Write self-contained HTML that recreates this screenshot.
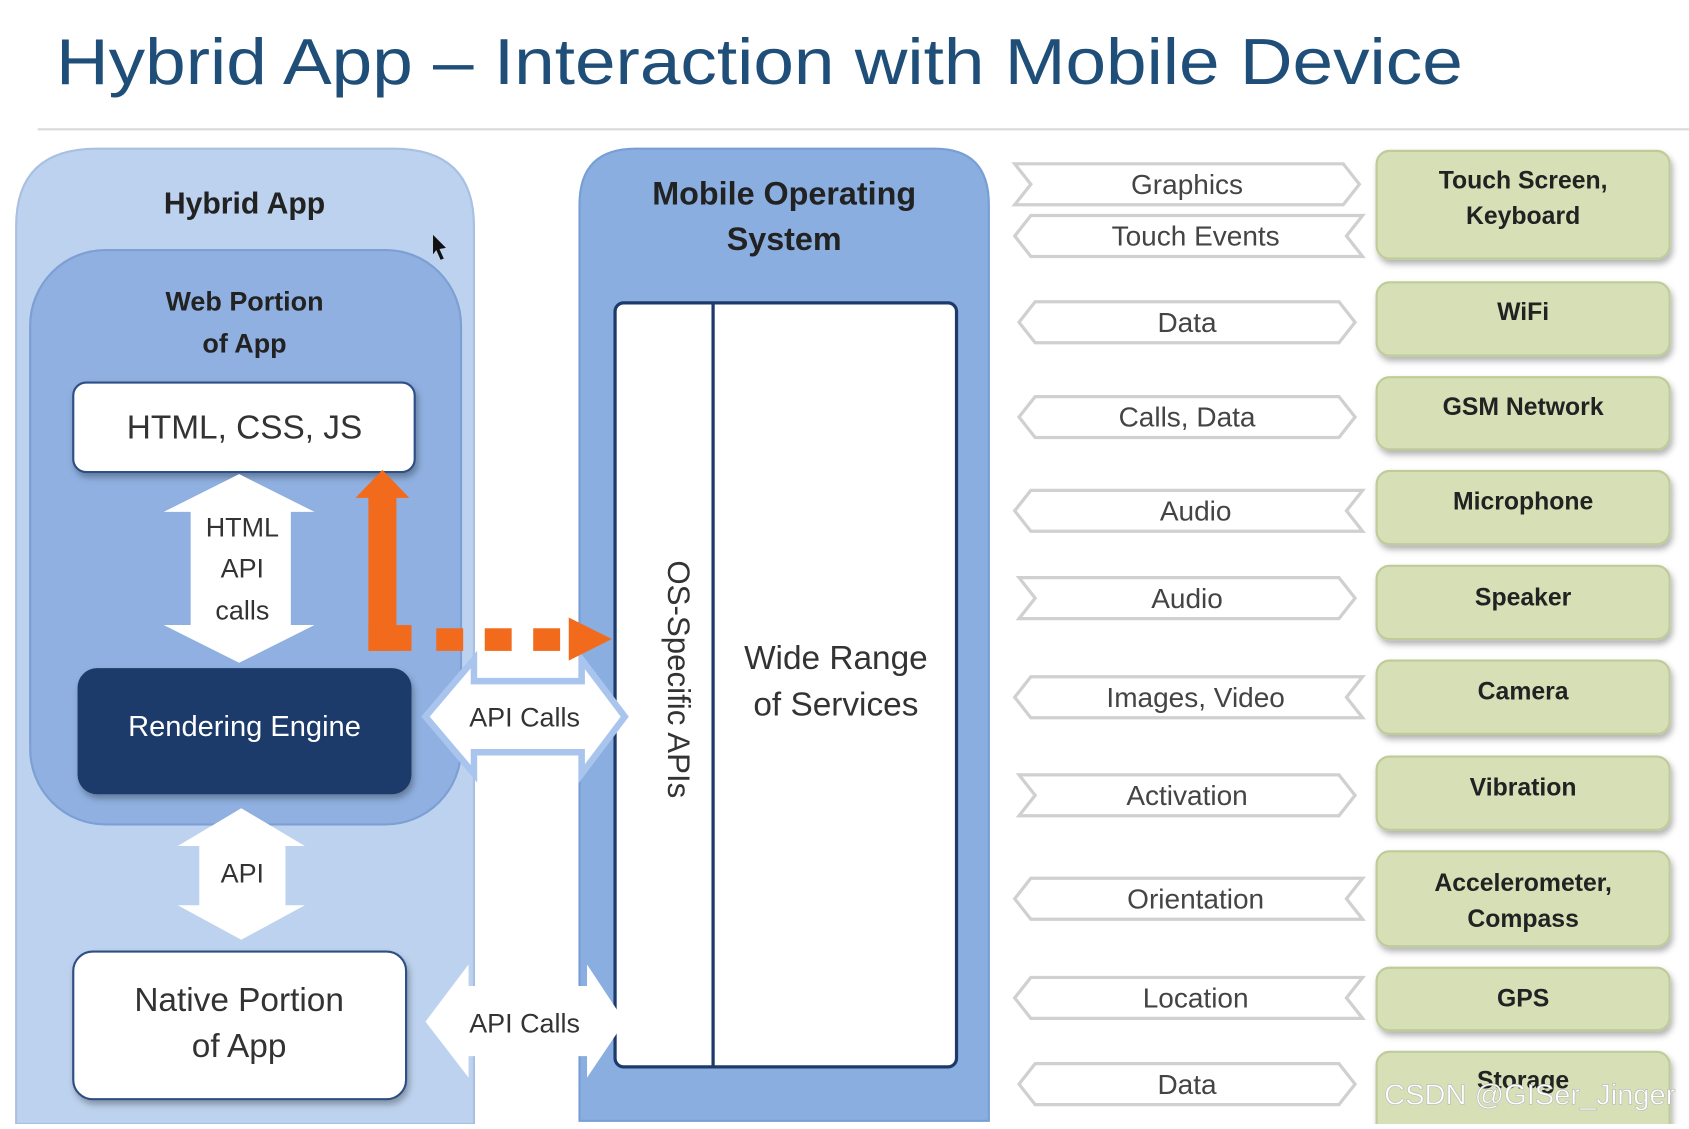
<!DOCTYPE html>
<html><head><meta charset="utf-8"><style>html,body{margin:0;padding:0;background:#fff;overflow:hidden}</style></head>
<body>
<svg width="1689" height="1124" viewBox="0 0 1568 1043" preserveAspectRatio="none" xmlns="http://www.w3.org/2000/svg" font-family="Liberation Sans, sans-serif">
<defs>
<filter id="sh" x="-10%" y="-10%" width="130%" height="140%"><feDropShadow dx="2" dy="4" stdDeviation="3" flood-color="#000" flood-opacity="0.3"/></filter>
</defs>
<rect width="1568" height="1043" fill="#fff"/>
<text x="52" y="78" font-size="60" fill="#1f4e79" textLength="1306" lengthAdjust="spacingAndGlyphs">Hybrid App – Interaction with Mobile Device</text>
<line x1="35" y1="120" x2="1568" y2="120" stroke="#d9d9d9" stroke-width="2"/>

<path d="M15,1043 V210 Q15,138 90,138 H365 Q440,138 440,210 V1043 Z" fill="#bdd2ee" stroke="#a9c0e2" stroke-width="2"/>
<text x="227" y="198" font-size="28" font-weight="bold" text-anchor="middle" fill="#222">Hybrid App</text>
<rect x="28" y="232" width="400" height="533" rx="70" fill="#8fb0e0" stroke="#7d9fd3" stroke-width="2"/>
<text x="227" y="288" font-size="25" font-weight="bold" text-anchor="middle" fill="#222">Web Portion</text>
<text x="227" y="327" font-size="25" font-weight="bold" text-anchor="middle" fill="#222">of App</text>
<rect x="68" y="355" width="317" height="83" rx="12" fill="#fff" stroke="#2d4f86" stroke-width="2" filter="url(#sh)"/>
<text x="227" y="407" font-size="31" text-anchor="middle" fill="#333">HTML, CSS, JS</text>
<polygon points="222,440 292,475 270,475 270,580 292,580 222,615 152,580 177,580 177,475 152,475" fill="#fff"/>
<text x="225" y="498" font-size="25" text-anchor="middle" fill="#333">HTML</text>
<text x="225" y="536" font-size="25" text-anchor="middle" fill="#333">API</text>
<text x="225" y="575" font-size="25" text-anchor="middle" fill="#333">calls</text>
<rect x="72" y="620" width="310" height="117" rx="18" fill="#1e3a6a" filter="url(#sh)"/>
<text x="227" y="683" font-size="27" text-anchor="middle" fill="#fff">Rendering Engine</text>
<polygon points="224,750 283,785 265,785 265,840 283,840 224,872 165,840 185,840 185,785 165,785" fill="#fff"/>
<text x="225" y="819" font-size="25" text-anchor="middle" fill="#333">API</text>
<rect x="68" y="883" width="309" height="137" rx="18" fill="#fff" stroke="#2d4f86" stroke-width="2" filter="url(#sh)"/>
<text x="222" y="938" font-size="31" text-anchor="middle" fill="#333">Native Portion</text>
<text x="222" y="981" font-size="31" text-anchor="middle" fill="#333">of App</text>

<path d="M538,1040 V190 Q538,138 590,138 H868 Q918,138 918,190 V1040 Z" fill="#8aaee0" stroke="#789ed6" stroke-width="2"/>
<text x="728" y="190" font-size="30" font-weight="bold" text-anchor="middle" fill="#222">Mobile  Operating</text>
<text x="728" y="232" font-size="30" font-weight="bold" text-anchor="middle" fill="#222">System</text>
<rect x="571" y="281" width="317" height="709" rx="8" fill="#fff" stroke="#1e3a6a" stroke-width="3"/>
<line x1="662" y1="281" x2="662" y2="990" stroke="#1e3a6a" stroke-width="3"/>
<text transform="translate(620,520) rotate(90)" font-size="29" fill="#333">OS-Specific APIs</text>
<text x="776" y="621" font-size="31" text-anchor="middle" fill="#333">Wide Range</text>
<text x="776" y="664" font-size="31" text-anchor="middle" fill="#333">of Services</text>

<polygon points="395,665 440,612 440,632 540,632 540,612 580,665 540,718 540,698 440,698 440,718" fill="#fff" stroke="#a9c5ee" stroke-width="6"/>
<text x="487" y="674" font-size="25" text-anchor="middle" fill="#333">API Calls</text>
<polygon points="395,948 435,895 435,915 545,915 545,895 580,948 545,1000 545,980 435,980 435,1000" fill="#fff"/>
<text x="487" y="958" font-size="25" text-anchor="middle" fill="#333">API Calls</text>

<polygon points="355,436 380,462 368,462 368,604 342,604 342,462 330,462" fill="#f26b1d"/>
<rect x="342" y="580" width="40" height="24" fill="#f26b1d"/>
<rect x="405" y="583" width="25" height="21" fill="#f26b1d"/>
<rect x="450" y="583" width="25" height="21" fill="#f26b1d"/>
<rect x="495" y="583" width="25" height="21" fill="#f26b1d"/>
<polygon points="528,573 568,593 528,613" fill="#f26b1d"/>
<polygon points="402,218 414,230 408,231 412,240 409,241 405,232 402,236" fill="#111"/>

<g fill="#fff" stroke="#d0d0d0" stroke-width="3" font-size="26">
<polygon points="942,152 1247,152 1262,171 1247,190 942,190 957,171"/>
<polygon points="942,219 957,200 1265,200 1250,219 1265,238 957,238"/>
<polygon points="946,299 961,280 1243,280 1258,299 1243,318 961,318"/>
<polygon points="946,387 961,368 1243,368 1258,387 1243,406 961,406"/>
<polygon points="942,474 957,455 1265,455 1250,474 1265,493 957,493"/>
<polygon points="946,536 1243,536 1258,555 1243,574 946,574 961,555"/>
<polygon points="942,647 957,628 1265,628 1250,647 1265,666 957,666"/>
<polygon points="946,719 1243,719 1258,738 1243,757 946,757 961,738"/>
<polygon points="942,834 957,815 1265,815 1250,834 1265,853 957,853"/>
<polygon points="942,926 957,907 1265,907 1250,926 1265,945 957,945"/>
<polygon points="946,1006 961,987 1243,987 1258,1006 1243,1025 961,1025"/>
</g>
<g font-size="26" fill="#444" text-anchor="middle">
<text x="1102" y="180">Graphics</text>
<text x="1110" y="228">Touch Events</text>
<text x="1102" y="308">Data</text>
<text x="1102" y="396">Calls, Data</text>
<text x="1110" y="483">Audio</text>
<text x="1102" y="564">Audio</text>
<text x="1110" y="656">Images, Video</text>
<text x="1102" y="747">Activation</text>
<text x="1110" y="843">Orientation</text>
<text x="1110" y="935">Location</text>
<text x="1102" y="1015">Data</text>
</g>

<g fill="#d6dfb6" stroke="#bfcb98" stroke-width="2" filter="url(#sh)">
<rect x="1278" y="140" width="272" height="100" rx="12"/>
<rect x="1278" y="262" width="272" height="68" rx="12"/>
<rect x="1278" y="350" width="272" height="67" rx="12"/>
<rect x="1278" y="437" width="272" height="68" rx="12"/>
<rect x="1278" y="525" width="272" height="68" rx="12"/>
<rect x="1278" y="613" width="272" height="68" rx="12"/>
<rect x="1278" y="702" width="272" height="68" rx="12"/>
<rect x="1278" y="790" width="272" height="88" rx="12"/>
<rect x="1278" y="898" width="272" height="58" rx="12"/>
<rect x="1278" y="976" width="272" height="80" rx="12"/>
</g>
<g font-size="23" font-weight="bold" fill="#222" text-anchor="middle">
<text x="1414" y="175">Touch Screen,</text>
<text x="1414" y="208">Keyboard</text>
<text x="1414" y="297">WiFi</text>
<text x="1414" y="385">GSM Network</text>
<text x="1414" y="473">Microphone</text>
<text x="1414" y="562">Speaker</text>
<text x="1414" y="649">Camera</text>
<text x="1414" y="738">Vibration</text>
<text x="1414" y="827">Accelerometer,</text>
<text x="1414" y="860">Compass</text>
<text x="1414" y="934">GPS</text>
<text x="1414" y="1010">Storage</text>
</g>
<text x="1285" y="1025" font-size="27" fill="#fff" stroke="#bbb" stroke-width="0.6">CSDN @GISer_Jinger</text>
</svg>
</body></html>
